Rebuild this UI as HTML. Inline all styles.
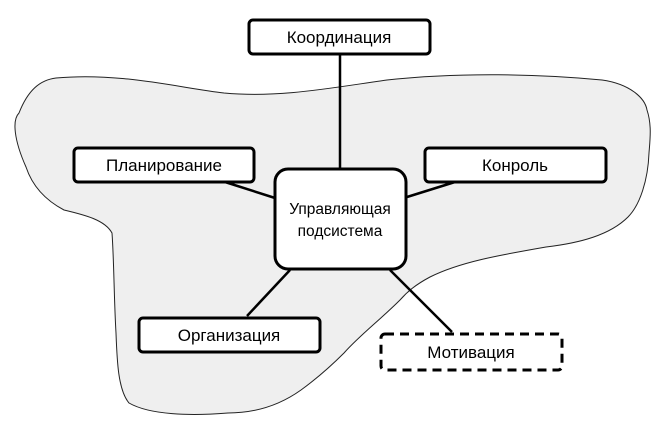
<!DOCTYPE html>
<html><head><meta charset="utf-8"><style>
html,body{margin:0;padding:0;background:#fff;}
svg{display:block}
text{font-family:"Liberation Sans",sans-serif;font-size:17px;fill:#000;}
</style></head><body>
<svg width="671" height="428" viewBox="0 0 671 428" xmlns="http://www.w3.org/2000/svg">
<path d="M26,167 C14,140 12,120 19,113 C28,90 40,80 56,78 C120,72 180,88 224,93 C280,98 330,88 387,80 C460,72 540,74 602,80 C630,84 645,98 647,110 C652,125 650,140 649,153 C648,180 640,205 628,217 C610,235 580,243 546,247 C500,255 460,262 430,277 C415,285 407,292 400,300 C380,320 360,335 344,353 C325,372 312,382 301,390 C280,405 255,413 228,413 C190,416 150,415 129,403 C118,390 117,360 116,333 C114,300 114,260 112,233 C105,220 85,215 64,210 C45,200 32,185 26,167 Z" fill="#efefef" stroke="#222" stroke-width="1"/>
<g stroke="#000" stroke-width="2.5" fill="none">
<line x1="340" y1="54" x2="340" y2="168"/>
<line x1="225" y1="182" x2="275" y2="198"/>
<line x1="455" y1="182" x2="407" y2="197"/>
<line x1="290" y1="270" x2="247" y2="316"/>
<line x1="390" y1="270" x2="452" y2="332"/>
</g>
<g stroke="#000" stroke-width="3" fill="#fff">
<rect x="249" y="20" width="181" height="34" rx="4"/>
<rect x="74" y="148" width="180" height="34" rx="4"/>
<rect x="425" y="148" width="181" height="34" rx="4"/>
<rect x="275" y="169" width="131" height="100" rx="13"/>
<rect x="139" y="318" width="181" height="34" rx="4"/>
<rect x="381" y="334" width="181" height="36" rx="4" stroke-dasharray="9,6"/>
</g>
<text x="339" y="43" text-anchor="middle">Координация</text>
<text x="164" y="171" text-anchor="middle">Планирование</text>
<text x="515" y="171" text-anchor="middle">Конроль</text>
<text x="229" y="341" text-anchor="middle">Организация</text>
<text x="471" y="358" text-anchor="middle">Мотивация</text>
<text x="340" y="214" text-anchor="middle" style="font-size:15.5px">Управляющая</text>
<text x="340" y="236" text-anchor="middle" style="font-size:15.5px">подсистема</text>
</svg>
</body></html>
